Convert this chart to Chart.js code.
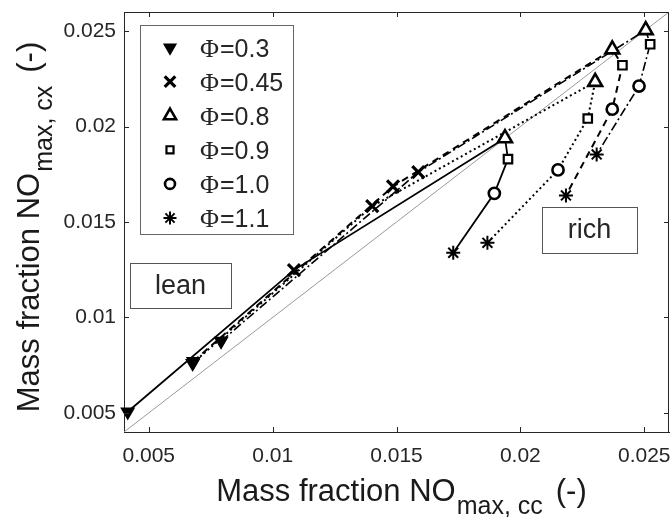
<!DOCTYPE html>
<html><head><meta charset="utf-8">
<script src="https://cdn.jsdelivr.net/npm/chart.js@4.4.0/dist/chart.umd.min.js"></script>
<style>html,body{margin:0;padding:0;background:#fff}#wrap{width:672px;height:517px}</style>
</head><body><div id="wrap"><canvas id="c" width="672" height="517"></canvas></div>
<script>
// ---- data ----
const legendLabels = ['Φ=0.3','Φ=0.45','Φ=0.8','Φ=0.9','Φ=1.0','Φ=1.1'];
const tickValues = [0.005, 0.01, 0.015, 0.02, 0.025];
const tickLabels = ['0.005', '0.01', '0.015', '0.02', '0.025'];
const axisMin = 0.004, axisMax = 0.026;
// each line is one sweep over the six equivalence ratios (order as legendLabels)
const solidX   = [0.00415, 0.01086, 0.01938, 0.01950, 0.01895, 0.01729];
const solidY   = [0.00506, 0.01248, 0.01939, 0.01829, 0.01650, 0.01339];
const dottedX  = [0.00677, 0.01402, 0.02302, 0.02272, 0.02152, 0.01867];
const dottedY  = [0.00760, 0.01583, 0.02234, 0.02042, 0.01773, 0.01391];
const dashedX  = [0.00680, 0.01486, 0.02371, 0.02412, 0.02371, 0.02184];
const dashedY  = [0.00770, 0.01686, 0.02404, 0.02321, 0.02091, 0.01639];
const dashDotX = [0.00792, 0.01588, 0.02506, 0.02524, 0.02479, 0.02308];
const dashDotY = [0.00876, 0.01761, 0.02505, 0.02431, 0.02212, 0.01854];
const diagX = [0.004, 0.026];
const diagY = [0.004, 0.026];

// ---- marker styles per equivalence ratio ----
const mStyle  = ['triangle','crossRot','triangle','rect','circle','star'];
const mRot    = [180, 0, 0, 0, 0, 0];
const mFill   = ['#000','#000','#fff','#fff','#fff','#000'];
const mRadius = [7.5, 8.5, 8, 6, 5.6, 7];
const mBorder = [1.2, 3.2, 2.6, 2.2, 2.6, 2];
const lgRadius = [7, 7.5, 7, 5, 5, 6.5];

const toPts = (xs, ys) => xs.map((x, i) => ({x, y: ys[i]}));
const TXT = '#262626';

function lineDs(label, xs, ys, dash, width) {
  return {
    label, data: toPts(xs, ys), showLine: true, borderColor: '#000', borderWidth: width,
    borderDash: dash, fill: false, tension: 0, clip: false,
    pointStyle: mStyle, pointRotation: mRot, pointRadius: mRadius,
    pointBorderWidth: mBorder, pointBackgroundColor: mFill, pointBorderColor: '#000',
    pointHoverRadius: mRadius
  };
}

const framePlugin = {
  id: 'frame',
  afterDraw(chart) {
    const {ctx, chartArea: a, scales: {x, y}} = chart;
    ctx.save();
    ctx.strokeStyle = TXT; ctx.lineWidth = 1;
    ctx.beginPath();
    ctx.moveTo(a.left, a.top + 0.5); ctx.lineTo(a.right, a.top + 0.5);
    ctx.moveTo(a.right - 0.5, a.top); ctx.lineTo(a.right - 0.5, a.bottom);
    tickValues.forEach(v => {
      const px = Math.round(x.getPixelForValue(v)) + 0.5;
      ctx.moveTo(px, a.bottom); ctx.lineTo(px, a.bottom - 5);
      ctx.moveTo(px, a.top); ctx.lineTo(px, a.top + 5);
      const py = Math.round(y.getPixelForValue(v)) + 0.5;
      ctx.moveTo(a.left, py); ctx.lineTo(a.left + 5, py);
      ctx.moveTo(a.right, py); ctx.lineTo(a.right - 5, py);
    });
    ctx.stroke();

    // annotation boxes
    function box(x0, y0, w, h, text) {
      ctx.fillStyle = '#fff'; ctx.fillRect(x0, y0, w, h);
      ctx.strokeStyle = '#555'; ctx.lineWidth = 1;
      ctx.strokeRect(x0 + 0.5, y0 + 0.5, w, h);
      ctx.fillStyle = TXT; ctx.font = '27px "Liberation Sans", Arial, sans-serif';
      ctx.textAlign = 'center'; ctx.textBaseline = 'middle';
      ctx.fillText(text, x0 + w / 2, y0 + h / 2 + 1);
    }
    box(130, 263, 101, 45, 'lean');
    box(542, 207, 95, 46, 'rich');

    // legend
    ctx.fillStyle = '#fff'; ctx.fillRect(140, 25, 153, 209);
    ctx.strokeStyle = '#666'; ctx.lineWidth = 1;
    ctx.strokeRect(140.5, 25.5, 153, 209);
    legendLabels.forEach((lab, i) => {
      const cy = 47.5 + i * 34.1;
      ctx.save();
      ctx.lineWidth = mBorder[i];
      ctx.strokeStyle = '#000'; ctx.fillStyle = mFill[i];
      Chart.helpers.drawPoint(ctx, {pointStyle: mStyle[i], rotation: mRot[i], radius: lgRadius[i], borderWidth: mBorder[i]}, 170, cy);
      ctx.restore();
      ctx.fillStyle = TXT; ctx.textAlign = 'left'; ctx.textBaseline = 'alphabetic';
      ctx.font = '26px "Liberation Serif", "Times New Roman", serif';
      ctx.fillText(lab[0], 200, cy + 9);
      const w0 = ctx.measureText(lab[0]).width;
      ctx.font = '25px "Liberation Sans", Arial, sans-serif';
      ctx.fillText(lab.slice(1), 200 + w0 + 1, cy + 9);
    });

    // axis titles with subscripts
    function title(main, sub, tail) {
      ctx.font = '31px "Liberation Sans", Arial, sans-serif';
      const w1 = ctx.measureText(main).width;
      const w3 = ctx.measureText(tail).width;
      ctx.font = '25px "Liberation Sans", Arial, sans-serif';
      const w2 = ctx.measureText(sub).width;
      const gap = 14;
      const total = w1 + w2 + gap + w3;
      let s = -total / 2;
      ctx.fillStyle = '#1a1a1a'; ctx.textAlign = 'left'; ctx.textBaseline = 'alphabetic';
      ctx.font = '31px "Liberation Sans", Arial, sans-serif';
      ctx.fillText(main, s, 0);
      ctx.font = '25px "Liberation Sans", Arial, sans-serif';
      ctx.fillText(sub, s + w1 + 1, 13);
      ctx.font = '31px "Liberation Sans", Arial, sans-serif';
      ctx.fillText(tail, s + w1 + w2 + gap, 0);
    }
    const cx = (a.left + a.right) / 2 + 5, cyy = (a.top + a.bottom) / 2 + 5;
    ctx.save(); ctx.translate(cx, 501); title('Mass fraction NO', 'max, cc', '(-)'); ctx.restore();
    ctx.save(); ctx.translate(39, cyy); ctx.rotate(-Math.PI / 2); title('Mass fraction NO', 'max, cx', '(-)'); ctx.restore();
    ctx.restore();
  }
};

const tickFmt = v => { const i = tickValues.findIndex(t => Math.abs(t - v) < 1e-9); return i >= 0 ? tickLabels[i] : ''; };
const tickFont = {family: '"Liberation Sans", Arial, sans-serif', size: 21};

new Chart(document.getElementById('c'), {
  type: 'scatter',
  data: {
    datasets: [
      lineDs('solid', solidX, solidY, [], 1.8),
      lineDs('dotted', dottedX, dottedY, [2, 3], 2),
      lineDs('dashed', dashedX, dashedY, [7, 5], 2),
      lineDs('dashdot', dashDotX, dashDotY, [9, 3, 2, 3], 1.6),
      {label: 'y=x', data: toPts(diagX, diagY), showLine: true, borderColor: '#9a9a9a', borderWidth: 1, pointRadius: 0, order: 10}
    ]
  },
  options: {
    responsive: false, animation: false, devicePixelRatio: 1,
    layout: {autoPadding: false, padding: {top: 12, right: 3, left: 0, bottom: 0}},
    plugins: {legend: {display: false}, tooltip: {enabled: false}},
    scales: {
      x: {
        type: 'linear', min: axisMin, max: axisMax,
        afterBuildTicks: s => { s.ticks = tickValues.map(v => ({value: v})); },
        afterFit: s => { s.height = 85; s.paddingLeft = 0; s.paddingRight = 0; },
        grid: {display: false, drawTicks: false},
        border: {display: true, color: TXT, width: 1},
        ticks: {callback: tickFmt, font: tickFont, color: TXT, padding: 12, maxRotation: 0, autoSkip: false}
      },
      y: {
        type: 'linear', min: axisMin, max: axisMax,
        afterBuildTicks: s => { s.ticks = tickValues.map(v => ({value: v})); },
        afterFit: s => { s.width = 124; s.paddingTop = 0; s.paddingBottom = 0; },
        grid: {display: false, drawTicks: false},
        border: {display: true, color: TXT, width: 1},
        ticks: {callback: tickFmt, font: tickFont, color: TXT, padding: 8, autoSkip: false}
      }
    }
  },
  plugins: [framePlugin]
});
</script></body></html>
